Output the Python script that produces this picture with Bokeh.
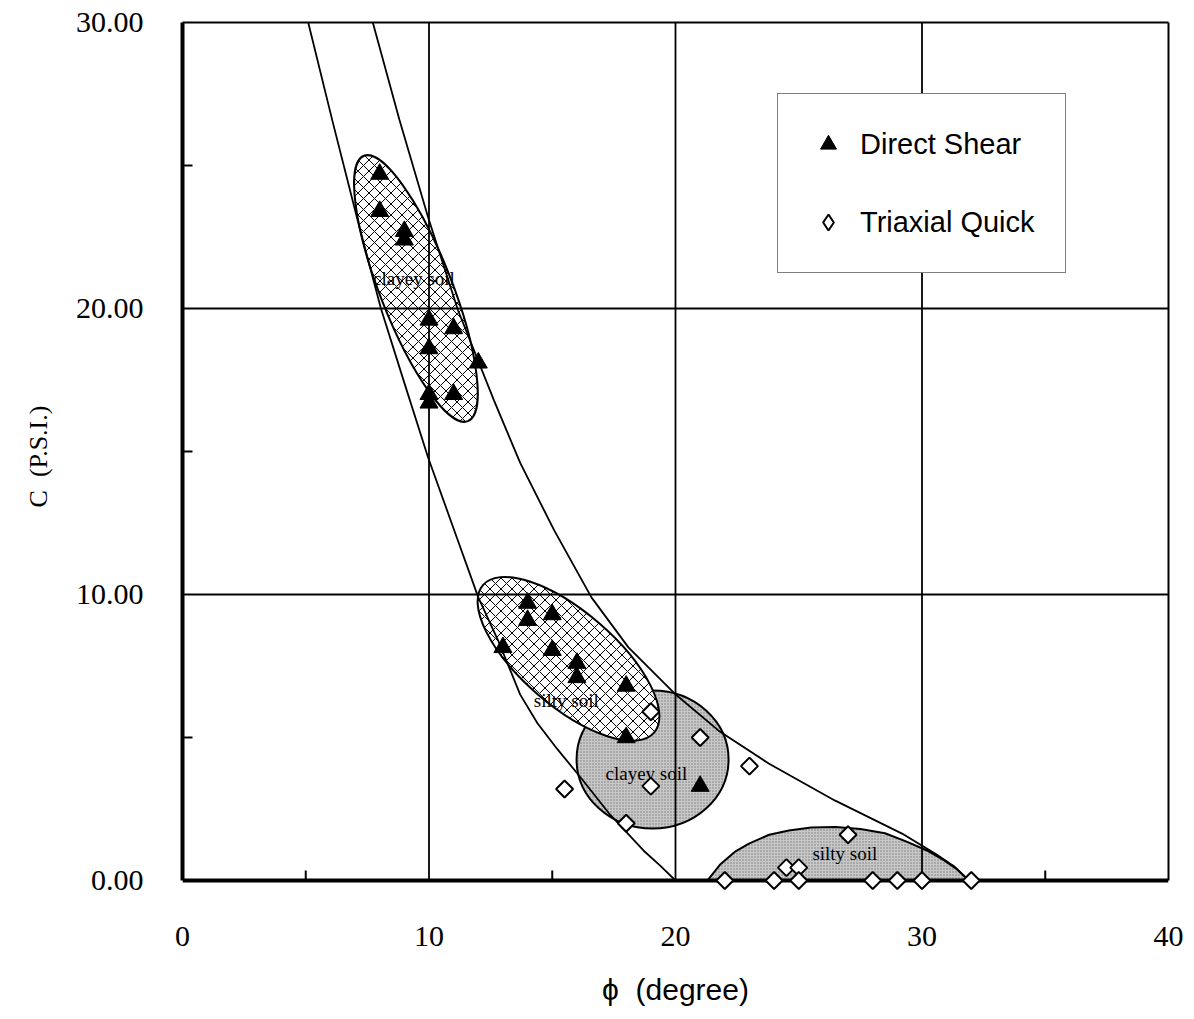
import math
from bokeh.plotting import figure
from bokeh.models import (Range1d, FixedTicker, LinearAxis, Legend, LegendItem,
                          PrintfTickFormatter, Span, Grid)
from bokeh.core.properties import value
from bokeh.embed import file_html
from bokeh.resources import INLINE

# ---------------- data ----------------
x_ticks = [0, 10, 20, 30, 40]
x_minor = [5, 15, 25, 35]
y_ticks = [0, 10, 20, 30]
y_minor = [5, 15, 25]

# Direct Shear (filled triangles)
ds_phi = [8, 8, 9, 9, 10, 10, 11, 12, 10, 10, 11, 13, 14, 14, 15, 15, 16, 16, 18, 18, 21]
ds_c = [24.7, 23.4, 22.7, 22.4, 19.6, 18.6, 19.3, 18.1, 17.0, 16.7, 17.0,
        8.15, 9.7, 9.1, 9.3, 8.05, 7.6, 7.1, 6.8, 5.0, 3.3]

# Triaxial Quick (open diamonds)
tq_phi = [19, 21, 23, 15.5, 19, 18, 27, 24.5, 25, 22, 24, 25, 28, 29, 30, 32]
tq_c = [5.9, 5.0, 4.0, 3.2, 3.3, 2.0, 1.6, 0.45, 0.45, 0, 0, 0, 0, 0, 0, 0]

# envelope curves
left_phi = [5.1, 6.1, 7.1, 8.05, 9.0, 9.96, 11.0, 12.0, 12.8, 13.7, 14.4, 15.2, 16.2,
            17.3, 18.7, 19.4, 20.0]
left_c = [30.0, 26.5, 23.1, 20.0, 17.4, 14.8, 12.3, 9.9, 8.4, 6.5, 5.5, 4.6, 3.55,
          2.35, 1.05, 0.5, 0.0]
right_phi = [7.72, 8.8, 9.96, 11.18, 12.64, 13.7, 15.08, 16.59, 18.09, 19.96, 21.75,
             23.78, 26.46, 29.19, 30.53, 31.3, 31.9]
right_c = [30.0, 26.6, 23.2, 19.93, 16.78, 14.6, 12.24, 9.9, 8.15, 6.54, 5.24,
           4.09, 2.8, 1.64, 0.94, 0.5, 0.0]

# soil regions (centres in data units)
hatched_x = [9.47, 15.66]
hatched_y = [20.70, 7.75]
stipple_x = [19.07]
stipple_y = [4.23]
# lower silty soil region boundary
silty_phi = [21.3, 21.8, 22.4, 23.0, 23.8, 24.6, 25.5, 26.5, 27.5, 28.5, 29.4, 30.2,
             30.9, 31.4, 31.9]
silty_c = [0.0, 0.55, 1.0, 1.3, 1.6, 1.75, 1.85, 1.87, 1.8, 1.65, 1.35, 1.05,
           0.7, 0.4, 0.0]

region_labels = ["clayey soil", "silty soil", "clayey soil", "silty soil"]
region_lx = [9.39, 15.57, 18.82, 26.87]
region_ly = [21.05, 6.29, 3.74, 0.94]

# ---------------- figure ----------------
p = figure(width=1194, height=1019, output_backend="svg", toolbar_location=None,
           x_range=Range1d(x_ticks[0], x_ticks[-1]), y_range=Range1d(-0.35, y_ticks[-1]),
           x_axis_location=None, y_axis_location=None,
           min_border_left=182, min_border_right=26, min_border_top=22, min_border_bottom=129)
p.outline_line_color = None
p.background_fill_color = "white"
p.border_fill_color = "white"
for r in list(p.center):
    if isinstance(r, Grid):
        r.visible = False

STIP = dict(fill_color="#c8c8c8", hatch_pattern="dot", hatch_scale=3, hatch_color="#777777",
            hatch_weight=1, line_color="black", line_width=2)
# regions
p.ellipse(x=stipple_x, y=stipple_y, width=152, height=138, angle=0.0,
          width_units="screen", height_units="screen", **STIP)
p.patch(silty_phi, silty_c, **STIP)
p.ellipse(x=hatched_x, y=hatched_y, width=[285, 226], height=[72, 94], angle=[1.944, 2.43],
          width_units="screen", height_units="screen",
          fill_color="white", hatch_pattern="diagonal_cross", hatch_scale=11,
          hatch_color="black", hatch_weight=1, line_color="black", line_width=2)

# grid lines (from tick arrays)
gx = x_ticks[1:-1]
p.segment(x0=gx, y0=[y_ticks[0]] * len(gx), x1=gx, y1=[y_ticks[-1]] * len(gx),
          line_color="black", line_width=1.8)
gy = y_ticks[1:-1]
p.segment(x0=[x_ticks[0]] * len(gy), y0=gy, x1=[x_ticks[-1]] * len(gy), y1=gy,
          line_color="black", line_width=1.8)

# envelopes
p.line(left_phi, left_c, line_color="black", line_width=1.8)
p.line(right_phi, right_c, line_color="black", line_width=1.8)

# region labels
p.text(x=region_lx, y=region_ly, text=region_labels, text_align="center",
       text_baseline="middle", text_font=value("Liberation Serif"),
       text_font_size="19px", text_color="black")

# bottom axis line at C = 0 and inward minor ticks
p.add_layout(Span(location=y_ticks[0], dimension="width", line_color="black", line_width=4))
p.ray(x=x_minor, y=[y_ticks[0]] * len(x_minor), length=10, length_units="screen",
      angle=math.pi / 2, line_color="black", line_width=2)

# points
r_ds = p.scatter(ds_phi, ds_c, marker="triangle", size=18, fill_color="black",
                 line_color="black", line_width=1)
# diamond glyph (used for the legend), covered by the square-rotated diamonds below
r_tq_leg = p.scatter(tq_phi, tq_c, marker="diamond", size=15, fill_color="white",
                     line_color="black", line_width=2)
r_tq = p.scatter(tq_phi, tq_c, marker="square", angle=0.785398, size=12,
                 fill_color="white", line_color="black", line_width=2, level="overlay")

# axes
yaxis = LinearAxis(ticker=FixedTicker(ticks=y_ticks, minor_ticks=y_minor),
                   formatter=PrintfTickFormatter(format="%.2f"),
                   bounds=(y_ticks[0], y_ticks[-1]),
                   axis_label="C\u00a0\u00a0(P.S.I.)", axis_label_standoff=20,
                   axis_label_text_font="Liberation Serif", axis_label_text_font_size="26px",
                   axis_label_text_font_style="normal", axis_label_text_color="black",
                   major_label_text_font="Liberation Serif", major_label_text_font_size="30px",
                   major_label_text_color="black", major_label_standoff=39,
                   axis_line_width=4, axis_line_color="black",
                   major_tick_in=0, major_tick_out=0,
                   minor_tick_in=10, minor_tick_out=0, minor_tick_line_width=2,
                   minor_tick_line_color="black")
p.add_layout(yaxis, "left")

xaxis = LinearAxis(ticker=FixedTicker(ticks=x_ticks),
                   axis_label="ϕ\u00a0\u00a0(degree)", axis_label_standoff=24,
                   axis_label_text_font="Liberation Sans", axis_label_text_font_size="30px",
                   axis_label_text_font_style="normal", axis_label_text_color="black",
                   major_label_text_font="Liberation Serif", major_label_text_font_size="30px",
                   major_label_text_color="black", major_label_standoff=36,
                   axis_line_color=None,
                   major_tick_line_color=None, minor_tick_line_color=None,
                   major_tick_in=0, major_tick_out=0, minor_tick_in=0, minor_tick_out=0)
p.add_layout(xaxis, "below")

top_axis = LinearAxis(ticker=FixedTicker(ticks=[]), axis_line_width=2, axis_line_color="black",
                      major_tick_line_color=None, minor_tick_line_color=None,
                      major_label_text_color=None)
p.add_layout(top_axis, "above")
right_axis = LinearAxis(ticker=FixedTicker(ticks=[]), bounds=(y_ticks[0], y_ticks[-1]),
                        axis_line_width=2, axis_line_color="black",
                        major_tick_line_color=None, minor_tick_line_color=None,
                        major_label_text_color=None)
p.add_layout(right_axis, "right")

# legend
legend = Legend(items=[LegendItem(label="Direct Shear", renderers=[r_ds]),
                       LegendItem(label="Triaxial Quick", renderers=[r_tq_leg])],
                location=(595, 617), padding=30, spacing=38, margin=0,
                glyph_width=40, glyph_height=40, label_height=40, label_standoff=12,
                label_text_font="Liberation Sans", label_text_font_size="29px",
                label_text_color="black",
                border_line_color="black", border_line_width=1.5,
                background_fill_color="white", background_fill_alpha=1.0)
p.add_layout(legend)

open("out.html", "w").write(file_html(p, INLINE))
